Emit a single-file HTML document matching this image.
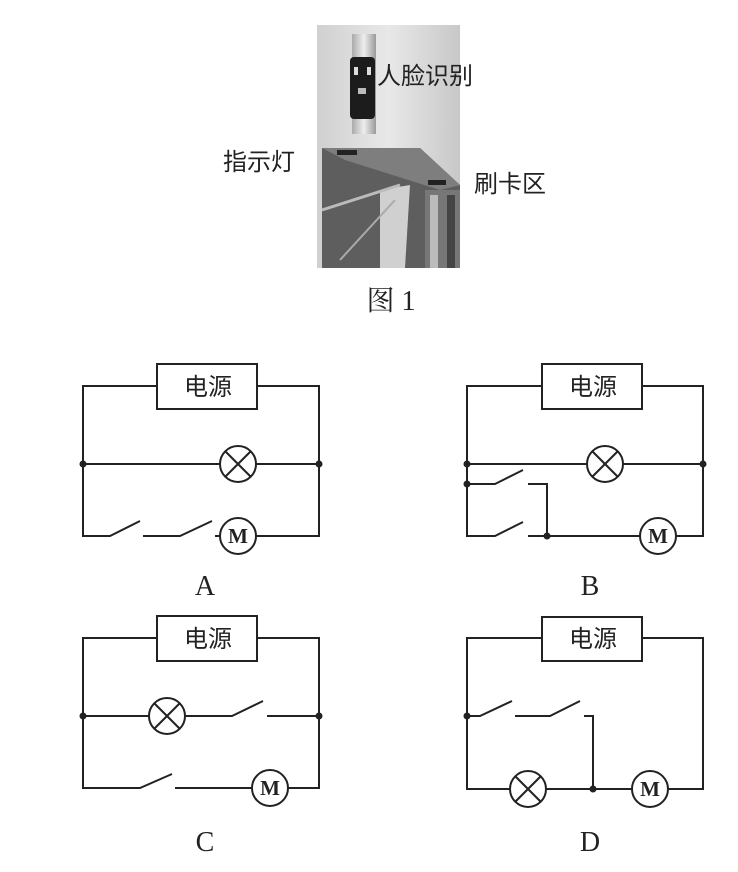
<!DOCTYPE html>
<html><head><meta charset="utf-8"><style>
body{margin:0;background:#fff;}
svg{display:block}
.t{font-family:"Liberation Sans","Noto Sans CJK SC",sans-serif;fill:#222;}
.s{font-family:"Liberation Serif","Noto Serif CJK SC",serif;fill:#222;}
</style></head><body>
<svg width="738" height="872" viewBox="0 0 738 872" xmlns="http://www.w3.org/2000/svg">
<defs>
<linearGradient id="bg" x1="0" y1="0" x2="1" y2="0">
<stop offset="0" stop-color="#d0d0d0"/><stop offset="0.5" stop-color="#e8e8e8"/><stop offset="1" stop-color="#c8c8c8"/></linearGradient>
<linearGradient id="post" x1="0" y1="0" x2="1" y2="0">
<stop offset="0" stop-color="#aaa"/><stop offset="0.5" stop-color="#eee"/><stop offset="1" stop-color="#999"/></linearGradient>
</defs>
<!-- photo -->
<rect x="317" y="25" width="143" height="243" fill="url(#bg)"/>
<polygon points="322,148 420,148 460,185 460,268 322,268" fill="#5e5e5e"/>
<polygon points="322,148 420,148 460,185 440,190 345,160" fill="#7e7e7e"/>
<rect x="425" y="190" width="35" height="78" fill="#777"/>
<rect x="430" y="195" width="8" height="73" fill="#bbb"/>
<rect x="447" y="195" width="8" height="73" fill="#444"/>
<polygon points="380,190 410,185 405,268 380,268" fill="#d0d0d0"/>
<line x1="322" y1="210" x2="400" y2="185" stroke="#bbb" stroke-width="3"/>
<line x1="340" y1="260" x2="395" y2="200" stroke="#aaa" stroke-width="2"/>
<rect x="352" y="34" width="24" height="100" fill="url(#post)"/>
<rect x="350" y="57" width="25" height="62" rx="4" fill="#1c1c1c"/>
<rect x="354" y="67" width="4" height="8" fill="#ddd"/><rect x="367" y="67" width="4" height="8" fill="#ddd"/>
<rect x="358" y="88" width="8" height="6" fill="#bbb"/>
<rect x="337" y="150" width="20" height="5" fill="#222"/>
<rect x="428" y="180" width="18" height="5" fill="#222"/>
<text class="t" x="377" y="84" font-size="24">人脸识别</text>
<text class="t" x="223" y="170" font-size="24">指示灯</text>
<text class="t" x="474" y="192" font-size="24">刷卡区</text>
<text class="s" x="391" y="310" font-size="28" text-anchor="middle">图 1</text>

<g stroke="#222" stroke-width="2" fill="none">
<!-- A -->
<rect x="157" y="364" width="100" height="45"/>
<polyline points="157,386 83,386 83,536 110,536 140,521"/>
<polyline points="257,386 319,386 319,536 256,536"/>
<line x1="83" y1="464" x2="220" y2="464"/><line x1="256" y1="464" x2="319" y2="464"/>
<circle cx="238" cy="464" r="18"/><line x1="225" y1="451" x2="251" y2="477"/><line x1="251" y1="451" x2="225" y2="477"/>
<polyline points="143,536 180,536 212,521"/><line x1="215" y1="536" x2="220" y2="536"/>
<circle cx="238" cy="536" r="18"/>
<!-- B -->
<rect x="542" y="364" width="100" height="45"/>
<polyline points="542,386 467,386 467,536 495,536 523,522"/>
<polyline points="642,386 703,386 703,536 676,536"/>
<line x1="467" y1="464" x2="587" y2="464"/><line x1="623" y1="464" x2="703" y2="464"/>
<circle cx="605" cy="464" r="18"/><line x1="592" y1="451" x2="618" y2="477"/><line x1="618" y1="451" x2="592" y2="477"/>
<polyline points="467,484 495,484 523,470"/>
<polyline points="528,484 547,484 547,536"/>
<line x1="528" y1="536" x2="640" y2="536"/>
<circle cx="658" cy="536" r="18"/>
<!-- C -->
<rect x="157" y="616" width="100" height="45"/>
<polyline points="157,638 83,638 83,788 140,788 172,774"/>
<polyline points="257,638 319,638 319,788 288,788"/>
<line x1="83" y1="716" x2="149" y2="716"/>
<circle cx="167" cy="716" r="18"/><line x1="154" y1="703" x2="180" y2="729"/><line x1="180" y1="703" x2="154" y2="729"/>
<polyline points="185,716 232,716 263,701"/><line x1="267" y1="716" x2="319" y2="716"/>
<line x1="175" y1="788" x2="252" y2="788"/>
<circle cx="270" cy="788" r="18"/>
<!-- D -->
<rect x="542" y="617" width="100" height="44"/>
<polyline points="542,638 467,638 467,789 510,789"/>
<polyline points="642,638 703,638 703,789 668,789"/>
<polyline points="467,716 480,716 512,701"/>
<polyline points="515,716 550,716 580,701"/>
<polyline points="584,716 593,716 593,789"/>
<circle cx="528" cy="789" r="18"/><line x1="515" y1="776" x2="541" y2="802"/><line x1="541" y1="776" x2="515" y2="802"/>
<line x1="546" y1="789" x2="632" y2="789"/>
<circle cx="650" cy="789" r="18"/>
</g>
<g fill="#222">
<circle cx="83" cy="464" r="3.5"/><circle cx="319" cy="464" r="3.5"/>
<circle cx="467" cy="464" r="3.5"/><circle cx="703" cy="464" r="3.5"/><circle cx="467" cy="484" r="3.5"/><circle cx="547" cy="536" r="3.5"/>
<circle cx="83" cy="716" r="3.5"/><circle cx="319" cy="716" r="3.5"/>
<circle cx="467" cy="716" r="3.5"/><circle cx="593" cy="789" r="3.5"/>
</g>
<g class="t" font-size="24" text-anchor="middle">
<text x="208" y="395">电源</text><text x="593" y="395">电源</text>
<text x="208" y="647">电源</text><text x="593" y="647">电源</text>
</g>
<g class="s" font-size="21" font-weight="bold" text-anchor="middle">
<text x="238" y="543">M</text><text x="658" y="543">M</text><text x="270" y="795">M</text><text x="650" y="796">M</text>
</g>
<g class="s" font-size="28" text-anchor="middle">
<text x="205" y="595">A</text><text x="590" y="595">B</text>
<text x="205" y="851">C</text><text x="590" y="851">D</text>
</g>
</svg>
</body></html>
